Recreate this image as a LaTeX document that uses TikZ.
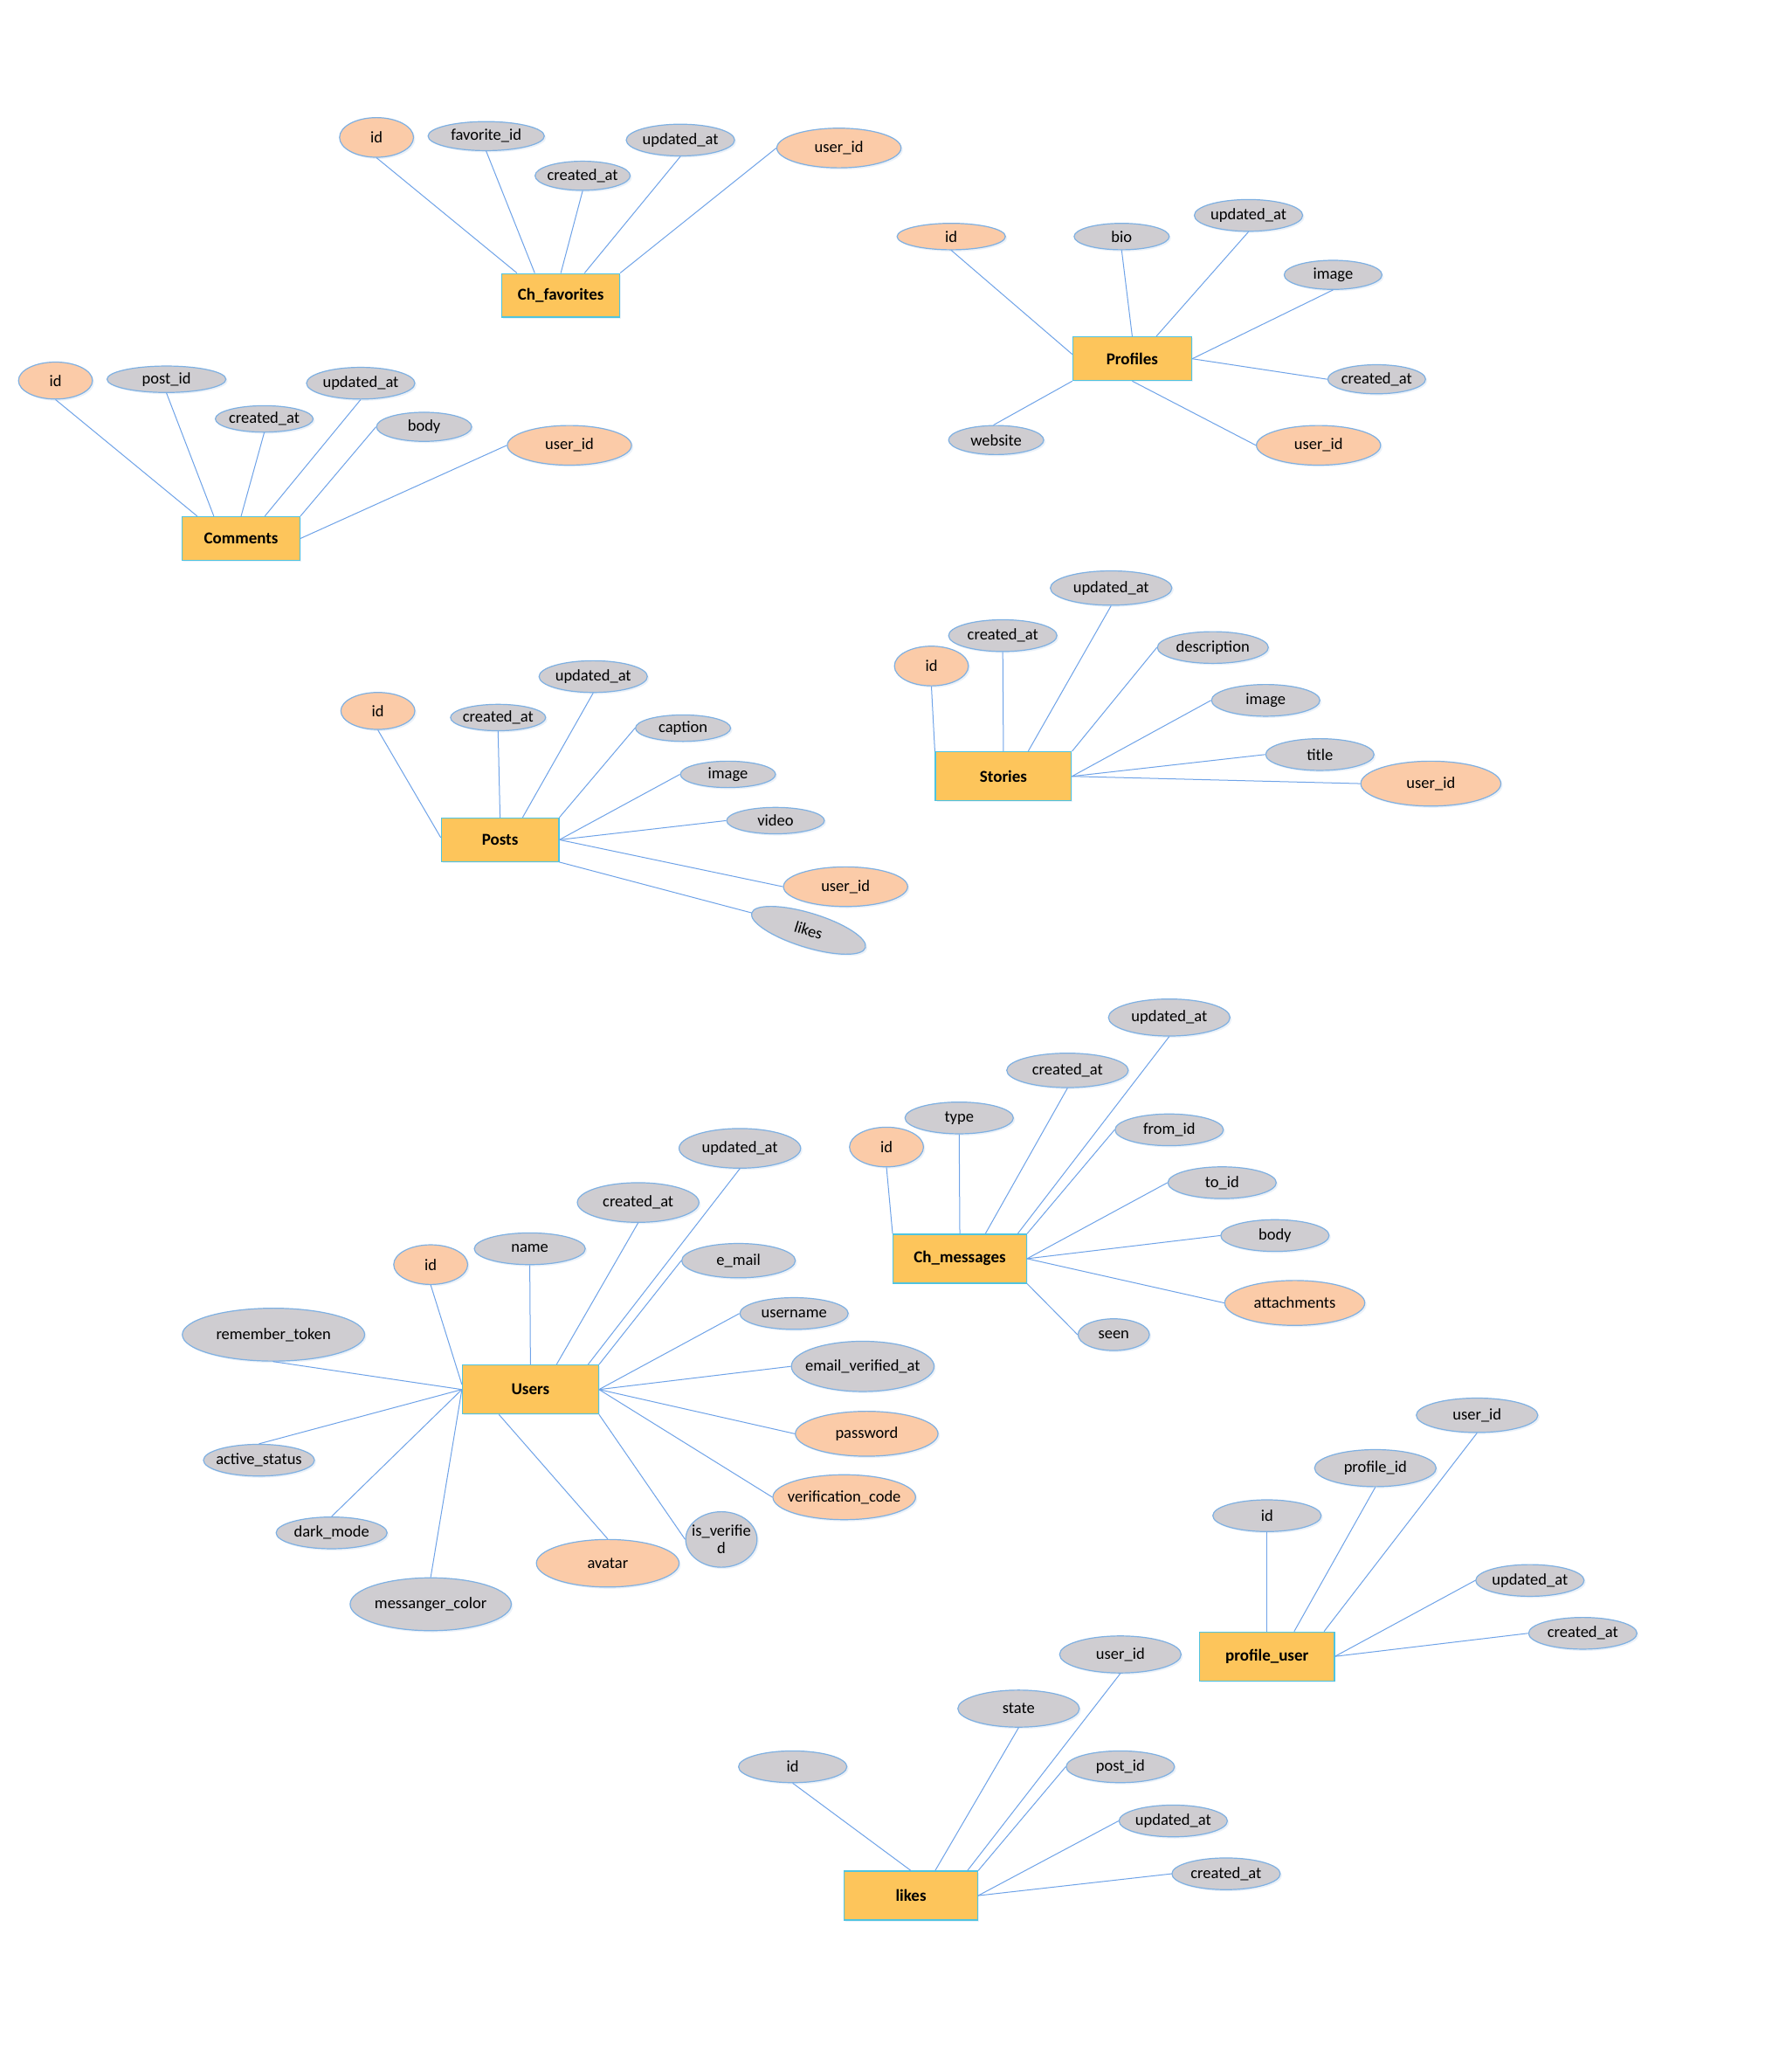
\documentclass[tikz,border=0pt]{standalone}
\usepackage{fontspec}
\setmainfont{Carlito}
\usetikzlibrary{shapes.geometric,calc,shadows}
\definecolor{entfill}{HTML}{FDC55B}
\definecolor{entdraw}{HTML}{4FC4E0}
\definecolor{pkfill}{HTML}{FBCBA8}
\definecolor{atfill}{HTML}{CFCDD1}
\definecolor{eldraw}{HTML}{7EB0E2}
\definecolor{conn}{HTML}{6FA3E8}
\definecolor{shad}{HTML}{D8E4F3}
\tikzset{
  ent/.style={rectangle, fill=entfill, draw=entdraw, line width=1.2pt, inner sep=0pt,
    font=\fontsize{19}{20}\selectfont\bfseries,
    drop shadow={shadow xshift=1.5pt, shadow yshift=-1.5pt, fill=shad}},
  elbase/.style={ellipse, draw=eldraw, line width=1.2pt, inner sep=0pt,
    drop shadow={shadow xshift=2pt, shadow yshift=-2pt, fill=shad}},
  pkattr/.style={elbase, fill=pkfill},
  plattr/.style={elbase, fill=atfill},
  txt/.style={font=\fontsize{18.5}{20}\selectfont, text=black, inner sep=0pt},
  link/.style={draw=conn, line width=1pt},
}
\newcommand\ellnode[7]{\node[#1,minimum width=#5*1.5126pt,minimum height=#6*1.5126pt,label={[txt]center:#7}] (#2) at (#3,#4) {};}
\newcommand\entnode[6]{\node[ent,minimum width=#4*1.5126pt,minimum height=#5*1.5126pt] (#1) at (#2,#3) {#6};}
\newcommand\topat[2]{($(#1.north west)!#2!(#1.north east)$)}
\newcommand\botat[2]{($(#1.south west)!#2!(#1.south east)$)}
\newcommand\leftat[2]{($(#1.north west)!#2!(#1.south west)$)}
\begin{document}
\begin{tikzpicture}[x=1.5126pt,y=-1.5126pt]
\useasboundingbox[fill=white] (0,0) rectangle (1346,1568);

% ================= Ch_favorites
\entnode{cf}{424.5}{223.5}{89}{33}{Ch\_favorites}
\ellnode{pkattr}{fid}{285}{104}{56}{30}{id}
\ellnode{plattr}{ffav}{368}{103}{88}{22}{favorite\_id}
\ellnode{plattr}{fcre}{441}{133}{72}{22}{created\_at}
\ellnode{plattr}{fupd}{515}{106}{82}{24}{updated\_at}
\ellnode{pkattr}{fusr}{635}{112}{94}{30}{user\_id}
\draw[link] (fid.south) -- \topat{cf}{0.13};
\draw[link] (ffav.south) -- \topat{cf}{0.28};
\draw[link] (fcre.south) -- \topat{cf}{0.5};
\draw[link] (fupd.south) -- \topat{cf}{0.7};
\draw[link] (fusr.west) -- (cf.north east);

% ================= Profiles
\entnode{pr}{857}{271.5}{90}{33}{Profiles}
\ellnode{pkattr}{pid}{720}{179}{82}{20}{id}
\ellnode{plattr}{pbio}{849}{179}{72}{20}{bio}
\ellnode{plattr}{pupd}{945}{163}{82}{24}{updated\_at}
\ellnode{plattr}{pimg}{1009}{208}{74}{22}{image}
\ellnode{plattr}{pcre}{1042}{287}{74}{22}{created\_at}
\ellnode{pkattr}{pusr}{998}{337}{94}{30}{user\_id}
\ellnode{plattr}{pweb}{754}{333}{72}{22}{website}
\draw[link] (pid.south) -- \leftat{pr}{0.4};
\draw[link] (pbio.south) -- (pr.north);
\draw[link] (pupd.south) -- \topat{pr}{0.7};
\draw[link] (pimg.south) -- (pr.east);
\draw[link] (pcre.west) -- (pr.east);
\draw[link] (pusr.west) -- (pr.south);
\draw[link] (pweb.100) -- (pr.south west);

% ================= Comments
\entnode{cm}{182.5}{407.5}{89}{33}{Comments}
\ellnode{pkattr}{cid}{42}{288}{56}{28}{id}
\ellnode{plattr}{cpost}{126}{287}{90}{20}{post\_id}
\ellnode{plattr}{ccre}{200}{317}{74}{20}{created\_at}
\ellnode{plattr}{cupd}{273}{290}{82}{24}{updated\_at}
\ellnode{plattr}{cbody}{321}{323}{72}{22}{body}
\ellnode{pkattr}{cusr}{431}{337}{94}{30}{user\_id}
\draw[link] (cid.south) -- \topat{cm}{0.13};
\draw[link] (cpost.south) -- \topat{cm}{0.27};
\draw[link] (ccre.south) -- \topat{cm}{0.5};
\draw[link] (cupd.south) -- \topat{cm}{0.7};
\draw[link] (cbody.west) -- (cm.north east);
\draw[link] (cusr.west) -- (cm.east);

% ================= Posts
\entnode{po}{378.5}{635.5}{89}{33}{Posts}
\ellnode{pkattr}{poid}{286}{538}{56}{28}{id}
\ellnode{plattr}{pocre}{377}{543}{72}{20}{created\_at}
\ellnode{plattr}{poupd}{449}{512}{82}{24}{updated\_at}
\ellnode{plattr}{pocap}{517}{551}{72}{20}{caption}
\ellnode{plattr}{poimg}{551}{586}{72}{20}{image}
\ellnode{plattr}{povid}{587}{621}{74}{20}{video}
\ellnode{pkattr}{pousr}{640}{671}{94}{30}{user\_id}
\node[plattr, txt, rotate=-17, minimum width=90*1.5126pt, minimum height=26*1.5126pt] (polik) at (612,704) {likes};
\draw[link] (poid.south) -- \leftat{po}{0.45};
\draw[link] (pocre.south) -- (po.north);
\draw[link] (poupd.south) -- \topat{po}{0.69};
\draw[link] (pocap.west) -- (po.north east);
\draw[link] (poimg.west) -- (po.east);
\draw[link] (povid.west) -- (po.east);
\draw[link] (pousr.west) -- (po.east);
\draw[link] (polik.west) -- (po.south east);

% ================= Stories
\entnode{st}{759.5}{587.5}{103}{37}{Stories}
\ellnode{pkattr}{sid}{705}{504}{56}{30}{id}
\ellnode{plattr}{scre}{759}{481}{82}{24}{created\_at}
\ellnode{plattr}{supd}{841}{445}{92}{26}{updated\_at}
\ellnode{plattr}{sdesc}{918}{490}{84}{24}{description}
\ellnode{plattr}{simg}{958}{530}{82}{24}{image}
\ellnode{plattr}{stit}{999}{571}{82}{24}{title}
\ellnode{pkattr}{susr}{1083}{593}{106}{34}{user\_id}
\draw[link] (sid.south) -- (st.north west);
\draw[link] (scre.south) -- (st.north);
\draw[link] (supd.south) -- \topat{st}{0.68};
\draw[link] (sdesc.west) -- (st.north east);
\draw[link] (simg.west) -- (st.east);
\draw[link] (stit.west) -- (st.east);
\draw[link] (susr.west) -- (st.east);

% ================= Ch_messages
\entnode{ms}{726.5}{952.5}{101}{37}{Ch\_messages}
\ellnode{pkattr}{mid}{671}{868}{56}{30}{id}
\ellnode{plattr}{mtype}{726}{846}{82}{24}{type}
\ellnode{plattr}{mcre}{808}{810}{92}{26}{created\_at}
\ellnode{plattr}{mupd}{885}{770}{92}{28}{updated\_at}
\ellnode{plattr}{mfrom}{885}{855}{82}{24}{from\_id}
\ellnode{plattr}{mto}{925}{895}{82}{24}{to\_id}
\ellnode{plattr}{mbody}{965}{935}{82}{24}{body}
\ellnode{pkattr}{matt}{980}{986}{106}{34}{attachments}
\ellnode{plattr}{mseen}{843}{1010}{54}{24}{seen}
\draw[link] (mid.south) -- (ms.north west);
\draw[link] (mtype.south) -- (ms.north);
\draw[link] (mcre.south) -- \topat{ms}{0.69};
\draw[link] (mupd.south) -- \topat{ms}{0.93};
\draw[link] (mfrom.west) -- (ms.north east);
\draw[link] (mto.west) -- (ms.east);
\draw[link] (mbody.west) -- (ms.east);
\draw[link] (matt.west) -- (ms.east);
\draw[link] (mseen.west) -- (ms.south east);

% ================= Users
\entnode{us}{401.5}{1051.5}{103}{37}{Users}
\ellnode{pkattr}{uid}{326}{957}{56}{30}{id}
\ellnode{plattr}{uname}{401}{945}{84}{24}{name}
\ellnode{plattr}{ucre}{483}{910}{92}{30}{created\_at}
\ellnode{plattr}{uupd}{560}{869}{92}{30}{updated\_at}
\ellnode{plattr}{umail}{559}{954}{86}{26}{e\_mail}
\ellnode{plattr}{uuser}{601}{994}{82}{24}{username}
\ellnode{plattr}{uever}{653}{1034}{108}{38}{email\_verified\_at}
\ellnode{pkattr}{upass}{656}{1085}{108}{34}{password}
\ellnode{pkattr}{uvcode}{639}{1133}{108}{34}{verification\_code}
\node[plattr, minimum width=54*1.5126pt, minimum height=42*1.5126pt,
  label={[txt,align=center]center:is\_verifie\\d}] (uisv) at (546,1165) {};
\ellnode{pkattr}{uava}{460}{1183}{108}{36}{avatar}
\ellnode{plattr}{umcol}{326}{1214}{122}{40}{messanger\_color}
\ellnode{plattr}{udark}{251}{1160}{84}{24}{dark\_mode}
\ellnode{plattr}{uact}{196}{1105}{84}{24}{active\_status}
\ellnode{plattr}{urem}{207}{1010}{138}{40}{remember\_token}
\draw[link] (uid.south) -- \leftat{us}{0.4};
\draw[link] (uname.south) -- (us.north);
\draw[link] (ucre.south) -- \topat{us}{0.69};
\draw[link] (uupd.south) -- \topat{us}{0.92};
\draw[link] (umail.west) -- (us.north east);
\draw[link] (uuser.west) -- (us.east);
\draw[link] (uever.west) -- (us.east);
\draw[link] (upass.west) -- (us.east);
\draw[link] (uvcode.west) -- (us.east);
\draw[link] (uisv.west) -- (us.south east);
\draw[link] (uava.north) -- \botat{us}{0.27};
\draw[link] (umcol.north) -- (us.west);
\draw[link] (udark.north) -- (us.west);
\draw[link] (uact.north) -- (us.west);
\draw[link] (urem.south) -- (us.west);

% ================= profile_user
\entnode{pu}{959}{1253.5}{102}{37}{profile\_user}
\ellnode{plattr}{puid}{959}{1147}{82}{24}{id}
\ellnode{plattr}{puprof}{1041}{1111}{92}{28}{profile\_id}
\ellnode{plattr}{puusr}{1118}{1071}{92}{26}{user\_id}
\ellnode{plattr}{puupd}{1158}{1196}{82}{24}{updated\_at}
\ellnode{plattr}{pucre}{1198}{1236}{82}{24}{created\_at}
\draw[link] (puid.south) -- (pu.north);
\draw[link] (puprof.south) -- \topat{pu}{0.7};
\draw[link] (puusr.south) -- \topat{pu}{0.92};
\draw[link] (puupd.west) -- (pu.east);
\draw[link] (pucre.west) -- (pu.east);

% ================= likes
\entnode{lk}{689.5}{1434.5}{101}{37}{likes}
\ellnode{plattr}{lid}{600}{1337}{82}{24}{id}
\ellnode{plattr}{lstate}{771}{1293}{92}{28}{state}
\ellnode{plattr}{lusr}{848}{1252}{92}{28}{user\_id}
\ellnode{plattr}{lpost}{848}{1337}{82}{24}{post\_id}
\ellnode{plattr}{lupd}{888}{1378}{82}{24}{updated\_at}
\ellnode{plattr}{lcre}{928}{1418}{82}{24}{created\_at}
\draw[link] (lid.south) -- (lk.north);
\draw[link] (lstate.south) -- \topat{lk}{0.68};
\draw[link] (lusr.south) -- \topat{lk}{0.92};
\draw[link] (lpost.west) -- (lk.north east);
\draw[link] (lupd.west) -- (lk.east);
\draw[link] (lcre.west) -- (lk.east);
\end{tikzpicture}
\end{document}
